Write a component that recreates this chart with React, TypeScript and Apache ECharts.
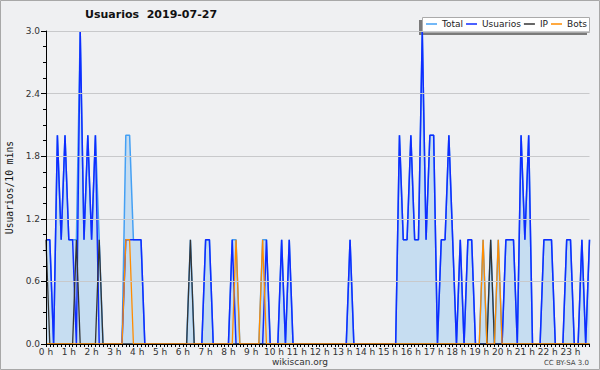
import React, { useEffect, useRef } from "react";
import * as echarts from "echarts";

// 10-minute slots, 6 per hour (0 h .. 23 h 50)
const hourLabels = [
  "0 h", "1 h", "2 h", "3 h", "4 h", "5 h", "6 h", "7 h", "8 h", "9 h", "10 h", "11 h",
  "12 h", "13 h", "14 h", "15 h", "16 h", "17 h", "18 h", "19 h", "20 h", "21 h", "22 h", "23 h",
];
const yTicks = [0, 0.6, 1.2, 1.8, 2.4, 3.0];

const total = [
  1, 1, 0, 2, 1, 2, // 0h
  1, 1, 1, 3, 1, 2, // 1h
  1, 2, 1, 0, 0, 0, // 2h
  0, 0, 0, 2, 2, 1, // 3h
  1, 1, 0, 0, 0, 0, // 4h
  0, 0, 0, 0, 0, 0, // 5h
  0, 0, 1, 0, 0, 0, // 6h
  1, 1, 0, 0, 0, 0, // 7h
  0, 1, 1, 0, 0, 0, // 8h
  0, 0, 0, 1, 1, 0, // 9h
  0, 0, 1, 0, 1, 0, // 10h
  0, 0, 0, 0, 0, 0, // 11h
  0, 0, 0, 0, 0, 0, // 12h
  0, 0, 1, 0, 0, 0, // 13h
  0, 0, 0, 0, 0, 0, // 14h
  0, 0, 0, 2, 1, 1, // 15h
  2, 1, 1, 3, 1, 2, // 16h
  2, 0, 1, 1, 2, 1, // 17h
  0, 1, 0, 1, 1, 0, // 18h
  0, 1, 0, 1, 0, 1, // 19h
  0, 1, 1, 1, 0, 2, // 20h
  1, 2, 0, 0, 0, 1, // 21h
  1, 1, 0, 0, 0, 1, // 22h
  1, 0, 0, 1, 0, 1, // 23h
];

const usuarios = [
  1, 1, 0, 2, 1, 2, // 0h
  1, 1, 0, 3, 1, 2, // 1h
  1, 2, 0, 0, 0, 0, // 2h
  0, 0, 0, 1, 1, 1, // 3h
  1, 1, 0, 0, 0, 0, // 4h
  0, 0, 0, 0, 0, 0, // 5h
  0, 0, 0, 0, 0, 0, // 6h
  1, 1, 0, 0, 0, 0, // 7h
  0, 1, 0, 0, 0, 0, // 8h
  0, 0, 0, 0, 1, 0, // 9h
  0, 0, 1, 0, 1, 0, // 10h
  0, 0, 0, 0, 0, 0, // 11h
  0, 0, 0, 0, 0, 0, // 12h
  0, 0, 1, 0, 0, 0, // 13h
  0, 0, 0, 0, 0, 0, // 14h
  0, 0, 0, 2, 1, 1, // 15h
  2, 1, 1, 3, 1, 2, // 16h
  2, 0, 1, 1, 2, 1, // 17h
  0, 1, 0, 1, 1, 0, // 18h
  0, 0, 0, 0, 0, 0, // 19h
  0, 1, 1, 1, 0, 2, // 20h
  1, 2, 0, 0, 0, 1, // 21h
  1, 1, 0, 0, 0, 1, // 22h
  1, 0, 0, 1, 0, 1, // 23h
];

const ip = [
  1, 0, 0, 0, 0, 0, // 0h
  0, 0, 1, 0, 0, 0, // 1h
  0, 0, 1, 0, 0, 0, // 2h
  0, 0, 0, 0, 0, 0, // 3h
  0, 0, 0, 0, 0, 0, // 4h
  0, 0, 0, 0, 0, 0, // 5h
  0, 0, 1, 0, 0, 0, // 6h
  0, 0, 0, 0, 0, 0, // 7h
  0, 0, 0, 0, 0, 0, // 8h
  0, 0, 0, 0, 0, 0, // 9h
  0, 0, 0, 0, 0, 0, // 10h
  0, 0, 0, 0, 0, 0, // 11h
  0, 0, 0, 0, 0, 0, // 12h
  0, 0, 0, 0, 0, 0, // 13h
  0, 0, 0, 0, 0, 0, // 14h
  0, 0, 0, 0, 0, 0, // 15h
  0, 0, 0, 0, 0, 0, // 16h
  0, 0, 0, 0, 0, 0, // 17h
  0, 0, 0, 0, 0, 0, // 18h
  0, 0, 0, 1, 0, 0, // 19h
  0, 0, 0, 0, 0, 0, // 20h
  0, 0, 0, 0, 0, 0, // 21h
  0, 0, 0, 0, 0, 0, // 22h
  0, 0, 0, 0, 0, 0, // 23h
];

const bots = [
  0, 0, 0, 0, 0, 0, // 0h
  0, 0, 0, 0, 0, 0, // 1h
  0, 0, 0, 0, 0, 0, // 2h
  0, 0, 0, 1, 1, 0, // 3h
  0, 0, 0, 0, 0, 0, // 4h
  0, 0, 0, 0, 0, 0, // 5h
  0, 0, 0, 0, 0, 0, // 6h
  0, 0, 0, 0, 0, 0, // 7h
  0, 0, 1, 0, 0, 0, // 8h
  0, 0, 0, 1, 0, 0, // 9h
  0, 0, 0, 0, 0, 0, // 10h
  0, 0, 0, 0, 0, 0, // 11h
  0, 0, 0, 0, 0, 0, // 12h
  0, 0, 0, 0, 0, 0, // 13h
  0, 0, 0, 0, 0, 0, // 14h
  0, 0, 0, 0, 0, 0, // 15h
  0, 0, 0, 0, 0, 0, // 16h
  0, 0, 0, 0, 0, 0, // 17h
  0, 0, 0, 0, 0, 0, // 18h
  0, 1, 0, 0, 0, 1, // 19h
  0, 0, 0, 0, 0, 0, // 20h
  0, 0, 0, 0, 0, 0, // 21h
  0, 0, 0, 0, 0, 0, // 22h
  0, 0, 0, 0, 0, 0, // 23h
];

const SANS = "'DejaVu Sans', sans-serif";

export default function App() {
  const ref = useRef<HTMLDivElement>(null);

  useEffect(() => {
    if (!ref.current) return;
    const chart = echarts.init(ref.current, null, { renderer: "svg" });
    const toPts = (arr: number[]) => arr.map((v, i) => [i, v]);

    chart.setOption({
      animation: false,
      backgroundColor: "#eff0f2",
      textStyle: { fontFamily: SANS },
      title: {
        text: "Usuarios  2019-07-27",
        left: 85,
        top: 9,
        padding: 0,
        textStyle: { fontFamily: SANS, fontSize: 11, fontWeight: "bold", color: "#111" },
      },
      legend: {
        data: ["Total", "Usuarios", "IP", "Bots"],
        left: 426,
        top: 19.5,
        padding: 0,
        icon: "rect",
        itemWidth: 11,
        itemHeight: 1.5,
        itemGap: 3,
        textStyle: { fontFamily: SANS, fontSize: 9, color: "#222" },
      },
      grid: { left: 46, right: 10.5, top: 31, bottom: 26, containLabel: false, outerBoundsMode: "none" },
      xAxis: {
        type: "value",
        min: 0,
        max: 143,
        interval: 6,
        z: 10,
        axisLine: { show: true, lineStyle: { color: "#000", width: 1 } },
        axisTick: { show: true, length: 3, lineStyle: { color: "#000" } },
        minorTick: { show: true, splitNumber: 6, length: 3, lineStyle: { color: "#000" } },
        splitLine: { show: false },
        axisLabel: {
          fontSize: 9,
          color: "#333",
          margin: 3,
          fontFamily: SANS,
          formatter: (v: number) => (v % 6 === 0 ? hourLabels[v / 6] || "" : ""),
        },
      },
      yAxis: {
        type: "value",
        min: yTicks[0],
        max: yTicks[yTicks.length - 1],
        interval: 0.6,
        z: 10,
        name: "Usuarios/10 mins",
        nameLocation: "middle",
        nameGap: 32,
        nameTextStyle: { fontFamily: "'DejaVu Sans Mono', monospace", fontSize: 9.7, color: "#111" },
        axisLine: { show: true, lineStyle: { color: "#000", width: 1 } },
        axisTick: { show: true, length: 5, lineStyle: { color: "#000" } },
        minorTick: { show: true, splitNumber: 4, length: 3, lineStyle: { color: "#000" } },
        splitLine: { show: true, lineStyle: { color: "#c8c9cb", width: 1 } },
        axisLabel: {
          fontSize: 9,
          color: "#333",
          margin: 6,
          fontFamily: SANS,
          formatter: (v: number) => v.toFixed(1),
        },
      },
      series: [
        {
          name: "Total",
          type: "line",
          data: toPts(total),
          symbol: "none",
          color: "#44a0f4",
          lineStyle: { color: "#44a0f4", width: 1.5 },
          areaStyle: { color: "#c6ddf1", opacity: 1 },
          z: 2,
        },
        {
          name: "Usuarios",
          type: "line",
          data: toPts(usuarios),
          symbol: "none",
          color: "#0f2cff",
          lineStyle: { color: "#0f2cff", width: 1.5 },
          z: 3,
        },
        {
          name: "IP",
          type: "line",
          data: toPts(ip),
          symbol: "none",
          color: "#333333",
          lineStyle: { color: "#333333", width: 1.3 },
          z: 4,
        },
        {
          name: "Bots",
          type: "line",
          data: toPts(bots),
          symbol: "none",
          color: "#ff8c00",
          lineStyle: { color: "#ff8c00", width: 1.3 },
          z: 5,
        },
      ],
      graphic: [
        { type: "rect", z: 1, shape: { x: 419, y: 20, width: 168, height: 15 }, style: { fill: "#7a7a7a" } },
        { type: "rect", z: 1, shape: { x: 422.5, y: 17.5, width: 167, height: 15 }, style: { fill: "#fff", stroke: "#aaa", lineWidth: 1 } },
        {
          type: "text",
          x: 300,
          y: 362,
          style: { text: "wikiscan.org", fontSize: 9, fill: "#333", align: "center", verticalAlign: "middle", fontFamily: SANS },
        },
        {
          type: "text",
          x: 589,
          y: 363,
          style: { text: "CC BY-SA 3.0", fontSize: 7, fill: "#444", align: "right", verticalAlign: "middle", fontFamily: SANS },
        },
        {
          type: "rect",
          z: 100,
          shape: { x: 0.5, y: 0.5, width: 599, height: 369 },
          style: { fill: "none", stroke: "#a8a8a8", lineWidth: 1 },
        },
      ],
    });

    return () => chart.dispose();
  }, []);

  return (
    <div style={{ position: "fixed", left: 0, top: 0, width: 600, height: 370 }}>
      <div ref={ref} style={{ width: 600, height: 370 }} />
    </div>
  );
}
